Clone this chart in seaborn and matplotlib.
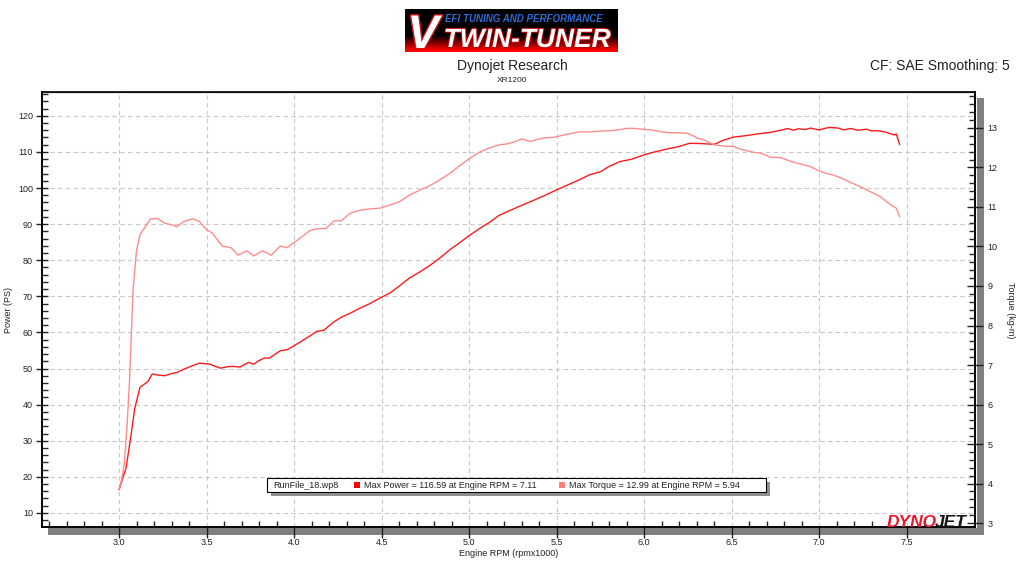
import numpy as np
import pandas as pd
import matplotlib
matplotlib.use("Agg")
import matplotlib.pyplot as plt
import matplotlib.patheffects as pe
from matplotlib.patches import Rectangle
from matplotlib.ticker import MultipleLocator, FormatStrFormatter
import seaborn as sns

# --- data ---
power_rpm = [3.00, 3.02, 3.04, 3.065, 3.09, 3.12, 3.165, 3.19, 3.22, 3.26, 3.30, 3.33,
             3.37, 3.41, 3.46, 3.52, 3.55, 3.58, 3.62, 3.65, 3.69, 3.74, 3.77, 3.80,
             3.83, 3.86, 3.92, 3.96, 4.00, 4.04, 4.09, 4.13, 4.17, 4.23, 4.27, 4.32,
             4.38, 4.43, 4.49, 4.55, 4.60, 4.66, 4.72, 4.78, 4.83, 4.89, 4.95, 5.00,
             5.06, 5.12, 5.17, 5.23, 5.29, 5.35, 5.43, 5.50, 5.57, 5.63, 5.69, 5.75,
             5.80, 5.86, 5.93, 6.00, 6.06, 6.13, 6.20, 6.26, 6.33, 6.40, 6.45, 6.51,
             6.58, 6.65, 6.72, 6.78, 6.82, 6.85, 6.88, 6.92, 6.95, 7.00, 7.03, 7.06,
             7.11, 7.14, 7.18, 7.22, 7.27, 7.30, 7.33, 7.38, 7.41, 7.43, 7.44, 7.46]
power_ps = [16.4, 19.5, 22.4, 30.3, 39.0, 44.8, 46.4, 48.5, 48.2, 48.0, 48.6, 48.9,
            49.8, 50.6, 51.5, 51.2, 50.6, 50.1, 50.5, 50.6, 50.4, 51.7, 51.2, 52.2,
            52.9, 52.9, 54.9, 55.2, 56.3, 57.5, 59.0, 60.3, 60.6, 63.0, 64.2, 65.3,
            66.8, 67.9, 69.5, 71.0, 72.8, 75.1, 76.8, 78.7, 80.5, 82.9, 85.0, 86.8,
            88.8, 90.6, 92.4, 93.7, 95.0, 96.2, 97.9, 99.5, 101.0, 102.3, 103.7, 104.5,
            106.0, 107.3, 108.0, 109.2, 110.0, 110.8, 111.5, 112.4, 112.3, 112.1, 113.2, 114.1,
            114.5, 115.0, 115.4, 116.0, 116.5, 116.0, 116.4, 116.2, 116.6, 116.1, 116.5, 116.8,
            116.6, 116.1, 116.5, 116.0, 116.3, 115.8, 115.9, 115.5, 115.0, 114.7, 115.0, 112.0]

torque_rpm = [3.00, 3.015, 3.03, 3.045, 3.06, 3.08, 3.10, 3.12, 3.15, 3.18, 3.22, 3.26,
              3.30, 3.33, 3.37, 3.42, 3.46, 3.50, 3.53, 3.56, 3.59, 3.64, 3.68, 3.73,
              3.77, 3.82, 3.87, 3.92, 3.96, 4.00, 4.04, 4.09, 4.13, 4.18, 4.23, 4.27,
              4.32, 4.38, 4.43, 4.49, 4.55, 4.60, 4.66, 4.72, 4.78, 4.83, 4.89, 4.95,
              5.00, 5.06, 5.12, 5.17, 5.22, 5.26, 5.30, 5.35, 5.40, 5.43, 5.48, 5.52,
              5.57, 5.63, 5.69, 5.75, 5.80, 5.85, 5.90, 5.94, 5.98, 6.04, 6.10, 6.15,
              6.20, 6.25, 6.28, 6.30, 6.34, 6.40, 6.46, 6.51, 6.55, 6.59, 6.63, 6.67,
              6.72, 6.78, 6.84, 6.90, 6.95, 7.00, 7.04, 7.08, 7.12, 7.16, 7.20, 7.24,
              7.29, 7.35, 7.38, 7.41, 7.43, 7.44, 7.46]
torque_kgm = [3.85, 4.1, 4.5, 5.4, 6.6, 8.9, 9.9, 10.3, 10.5, 10.70, 10.71, 10.59,
              10.55, 10.50, 10.63, 10.70, 10.63, 10.42, 10.35, 10.18, 10.01, 9.97, 9.78, 9.89,
              9.76, 9.89, 9.78, 10.01, 9.97, 10.10, 10.23, 10.40, 10.45, 10.45, 10.65, 10.65,
              10.84, 10.92, 10.95, 10.97, 11.05, 11.13, 11.30, 11.43, 11.55, 11.68, 11.85, 12.06,
              12.22, 12.39, 12.50, 12.57, 12.60, 12.65, 12.72, 12.66, 12.72, 12.75, 12.76, 12.80,
              12.85, 12.90, 12.90, 12.92, 12.93, 12.95, 12.99, 12.99, 12.97, 12.95, 12.90, 12.88,
              12.88, 12.86, 12.80, 12.75, 12.70, 12.57, 12.54, 12.53, 12.46, 12.42, 12.38, 12.36,
              12.26, 12.25, 12.15, 12.08, 12.02, 11.91, 11.85, 11.81, 11.74, 11.66, 11.58, 11.50,
              11.39, 11.26, 11.15, 11.05, 11.00, 10.97, 10.75]

legend_run = "RunFile_18.wp8"
legend_power = "Max Power = 116.59 at Engine RPM = 7.11"
legend_torque = "Max Torque = 12.99 at Engine RPM = 5.94"

power_df = pd.DataFrame({"rpm": power_rpm, "power": power_ps})
torque_df = pd.DataFrame({"rpm": torque_rpm, "torque": torque_kgm})

POWER_C = "#ff1a1a"
TORQUE_C = "#ff8c8c"

sns.set_style("white")
plt.rcParams["font.family"] = ["Liberation Sans", "DejaVu Sans"]

W, H = 1024, 575
fig = plt.figure(figsize=(W / 100, H / 100), dpi=100)


def px(x, y):
    # pixel position (top-left origin) -> figure fraction
    return x / W, 1 - y / H


# plot area
left, right, top, bottom = 42, 975, 92, 527
ax = fig.add_axes([left / W, 1 - bottom / H, (right - left) / W, (bottom - top) / H])
ax2 = ax.twinx()

sns.lineplot(data=power_df, x="rpm", y="power", ax=ax, color=POWER_C, lw=1.0,
             sort=False, estimator=None, zorder=3)
sns.lineplot(data=torque_df, x="rpm", y="torque", ax=ax2, color=TORQUE_C, lw=1.0,
             sort=False, estimator=None, zorder=3)

ax.set_xlim(2.56, 7.89)
ax.set_ylim(6.1, 126.6)
ax2.set_ylim(2.9, 13.91)

ax.xaxis.set_major_locator(MultipleLocator(0.5))
ax.xaxis.set_minor_locator(MultipleLocator(0.1))
ax.xaxis.set_major_formatter(FormatStrFormatter("%.1f"))
ax.yaxis.set_major_locator(MultipleLocator(10))
ax.yaxis.set_minor_locator(MultipleLocator(2))
ax2.yaxis.set_major_locator(MultipleLocator(1))
ax2.yaxis.set_minor_locator(MultipleLocator(0.2))

ax.grid(True, which="major", color="#c8c8c8", lw=0.8, ls=(0, (4, 3)))
ax.set_axisbelow(True)

ax.tick_params(axis="x", which="major", direction="out", length=8, width=1,
               labelsize=6.5, pad=0, colors="#222222", bottom=True, top=False)
ax.tick_params(axis="x", which="minor", direction="in", length=4, width=1,
               bottom=True, top=False)
ax.tick_params(axis="y", which="major", direction="inout", length=9, width=1,
               labelsize=6.5, pad=2, colors="#222222", left=True, right=False)
ax.tick_params(axis="y", which="minor", direction="in", length=4, width=1,
               left=True, right=False)
ax2.tick_params(axis="y", which="major", direction="inout", length=12, width=1,
                labelsize=6.5, pad=3, colors="#222222", right=True, left=False)
ax2.tick_params(axis="y", which="minor", direction="in", length=4, width=1,
                right=True, left=False)
ax2.tick_params(axis="x", which="both", top=False, bottom=False, labeltop=False, labelbottom=False)

for a in (ax, ax2):
    for s in a.spines.values():
        s.set_color("black")
        s.set_linewidth(1.2)
ax.spines["top"].set_color("#555555")
ax.spines["top"].set_linewidth(0.9)

ax.set_xlabel("")
ax.set_ylabel("")
ax2.set_ylabel("")

# drop shadow of the plot frame
fig.patches.append(Rectangle(px(48, 535), 936 / W, 7 / H, transform=fig.transFigure,
                             facecolor="#808080", edgecolor="none", zorder=-1))
fig.patches.append(Rectangle(px(977, 535), 7 / W, 437 / H, transform=fig.transFigure,
                             facecolor="#808080", edgecolor="none", zorder=-1))

# axis titles
fig.text(*px(9, 310), "Power (PS)", rotation=90, ha="center", va="center", fontsize=6.5, color="#222222")
fig.text(*px(1011, 310), "Torque (kg-m)", rotation=270, ha="center", va="center", fontsize=6.5, color="#222222")
fig.text(*px(509, 553), "Engine RPM (rpmx1000)", ha="center", va="center", fontsize=6.5, color="#222222")

# headings
fig.text(*px(512, 66), "Dynojet Research", ha="center", va="center", fontsize=10, color="#222222")
fig.text(*px(512, 81), "XR1200", ha="center", va="center", fontsize=6, color="#222222")
fig.text(*px(1010, 66), "CF: SAE Smoothing: 5", ha="right", va="center", fontsize=10, color="#222222")

# V-Twin Tuner logo
lax = fig.add_axes([405 / W, 1 - 52 / H, 213 / W, 43 / H])
grad = np.zeros((43, 2, 3))
for i in range(43):
    t = i / 42
    if t > 0.62:
        grad[i, :, 0] = min(1.0, (t - 0.62) / 0.38 * 1.1)
lax.imshow(grad, aspect="auto", extent=(0, 1, 0, 1))
lax.set_axis_off()
fig.text(*px(423, 48), "V", ha="center", va="baseline", fontsize=34, fontweight="bold",
         fontstyle="italic", color="white",
         path_effects=[pe.withStroke(linewidth=2, foreground="#d01010")])
fig.text(*px(524, 19), "EFI TUNING AND PERFORMANCE", ha="center", va="center", fontsize=7,
         fontweight="bold", fontstyle="italic", color="#2c6cd8")
fig.text(*px(527, 47), "TWIN-TUNER", ha="center", va="baseline", fontsize=19, fontweight="bold",
         fontstyle="italic", color="white",
         path_effects=[pe.withStroke(linewidth=1.5, foreground="#c00000")])

# legend box
fig.patches.append(Rectangle(px(271, 496), 499 / W, 14 / H, transform=fig.transFigure,
                             facecolor="#909090", edgecolor="none", zorder=5))
fig.patches.append(Rectangle(px(267, 492), 499 / W, 14 / H, transform=fig.transFigure,
                             facecolor="white", edgecolor="black", lw=0.8, zorder=6))
fig.text(*px(273, 485), legend_run, ha="left", va="center", fontsize=6.5, color="#222222", zorder=7)
fig.patches.append(Rectangle(px(354, 488), 6 / W, 6 / H, transform=fig.transFigure,
                             facecolor="#ff0000", edgecolor="none", zorder=7))
fig.text(*px(364, 485), legend_power, ha="left", va="center", fontsize=6.5, color="#222222", zorder=7)
fig.patches.append(Rectangle(px(559, 488), 6 / W, 6 / H, transform=fig.transFigure,
                             facecolor="#ff8080", edgecolor="none", zorder=7))
fig.text(*px(569, 485), legend_torque, ha="left", va="center", fontsize=6.5, color="#222222", zorder=7)

# Dynojet mark
fig.text(*px(887, 527), "DYNO", ha="left", va="baseline", fontsize=12.5, fontweight="bold",
         fontstyle="italic", color="#e8182a", zorder=8)
fig.text(*px(935, 527), "JET", ha="left", va="baseline", fontsize=12.5, fontweight="bold",
         fontstyle="italic", color="#151515", zorder=8)

fig.savefig("out.png", dpi=100)
